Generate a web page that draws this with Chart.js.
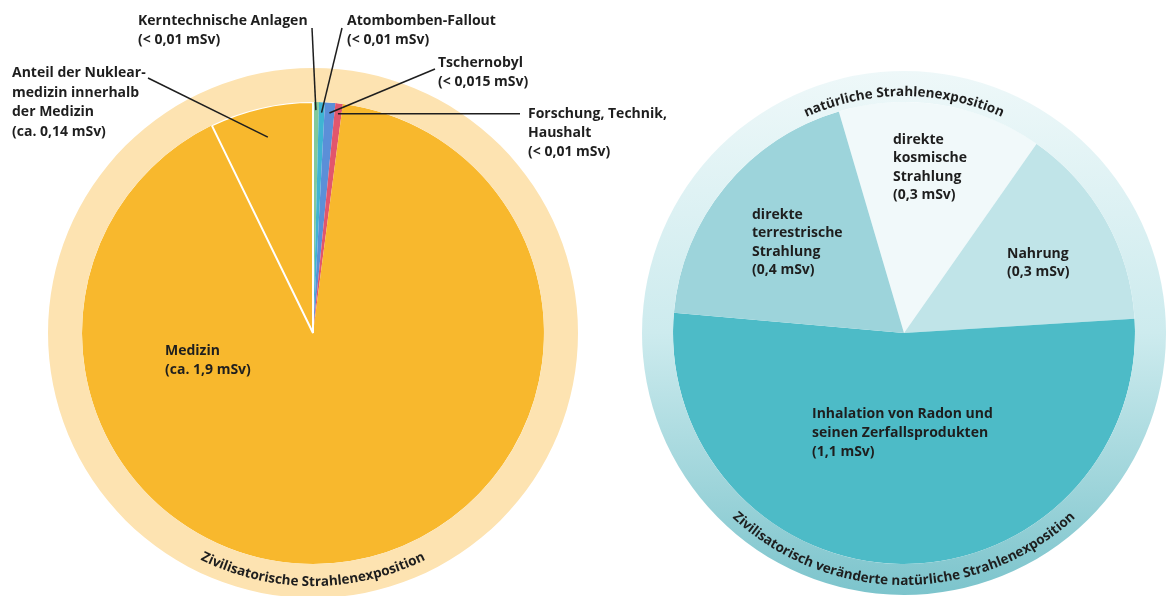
<!DOCTYPE html>
<html>
<head>
<meta charset="utf-8">
<title>Strahlenexposition</title>
<script src="https://cdn.jsdelivr.net/npm/chart.js@4.4.0/dist/chart.umd.min.js"></script>
<style>
  html, body { margin: 0; padding: 0; background: #fff; width: 1166px; height: 596px; overflow: hidden; }
  #left { position: absolute; left: 0; top: 0; }
  #right { position: absolute; left: 620px; top: 0; }
</style>
</head>
<body>
<canvas id="left" width="700" height="600"></canvas>
<canvas id="right" width="546" height="600"></canvas>
<script>
// ---- Data ----
// left pie: civilisational exposure (mSv, small slices as drawn)
const zivLabels = ['Kerntechnische Anlagen', 'Atombomben-Fallout', 'Tschernobyl', 'Forschung, Technik, Haushalt', 'Medizin', 'Nuklearmedizin'];
const zivValues = [0.008, 0.008, 0.014, 0.01, 1.76, 0.14];
const zivText = [
  ['Kerntechnische Anlagen', '(< 0,01 mSv)'],
  ['Atombomben-Fallout', '(< 0,01 mSv)'],
  ['Tschernobyl', '(< 0,015 mSv)'],
  ['Forschung, Technik,', 'Haushalt', '(< 0,01 mSv)'],
  ['Medizin', '(ca. 1,9 mSv)'],
  ['Anteil der Nuklear-', 'medizin innerhalb', 'der Medizin', '(ca. 0,14 mSv)']
];

// right pie: natural exposure (mSv)
const natLabels = ['direkte kosmische Strahlung', 'Nahrung', 'Inhalation von Radon', 'direkte terrestrische Strahlung'];
const natValues = [0.3, 0.3, 1.1, 0.4];
const natText = [
  ['direkte', 'kosmische', 'Strahlung', '(0,3 mSv)'],
  ['Nahrung', '(0,3 mSv)'],
  ['Inhalation von Radon und', 'seinen Zerfallsprodukten', '(1,1 mSv)'],
  ['direkte', 'terrestrische', 'Strahlung', '(0,4 mSv)']
];

const ringTextLeft = 'Zivilisatorische Strahlenexposition';
const ringTextTop = 'natürliche Strahlenexposition';
const ringTextBottom = 'Zivilisatorisch veränderte natürliche Strahlenexposition';

// ---- Styles ----
const cOrange = '#f8b82d';
const cOrangeRing = '#fde3b1';
const zivColors = ['#82c99b', '#3fb4d3', '#5b8fd8', '#e2566c', cOrange, cOrange];
const natColors = ['#f1f9fa', '#c0e4e8', '#4dbbc7', '#9dd4db'];
const textColor = '#1e1e1e';
const labelFont = 'bold 14px "Open Sans"';
const ringFont = 'bold 13.5px "Open Sans"';

// label anchors (x, first baseline, line height) in page pixels
const zivLayout = [
  { x: 138, y: 25, lh: 19, lead: [312, 28], r: 0.965 },
  { x: 347, y: 25, lh: 19, lead: [342, 28], r: 0.955 },
  { x: 438, y: 67, lh: 19, lead: [435, 69], r: 0.955 },
  { x: 528, y: 118, lh: 19, lead: [520, null], r: 0.955 },
  { x: 165, y: 355, lh: 19 },
  { x: 12, y: 77, lh: 19.5, lead: [148, 78], r: 0.87 }
];
const natLayout = [
  { x: 893, y: 143.5, lh: 18.5 },
  { x: 1007, y: 257.5, lh: 18.5 },
  { x: 812, y: 417.5, lh: 19 },
  { x: 752, y: 218.5, lh: 18.5 }
];

// ---- Helpers ----
function drawLines(ctx, lines, x, y, lh) {
  lines.forEach((t, i) => ctx.fillText(t, x, y + i * lh));
}

// text along a circle; smile = bottom arc read left to right
function arcText(ctx, text, cx, cy, r, center, smile) {
  ctx.save();
  ctx.font = ringFont;
  ctx.fillStyle = textColor;
  ctx.textAlign = 'center';
  ctx.textBaseline = 'alphabetic';
  const widths = [...text].map(ch => ctx.measureText(ch).width);
  const total = widths.reduce((a, b) => a + b, 0) / r;
  let a = smile ? center + total / 2 : center - total / 2;
  [...text].forEach((ch, i) => {
    const da = widths[i] / r;
    const m = smile ? a - da / 2 : a + da / 2;
    ctx.save();
    ctx.translate(cx + r * Math.cos(m), cy + r * Math.sin(m));
    ctx.rotate(smile ? m - Math.PI / 2 : m + Math.PI / 2);
    ctx.fillText(ch, 0, 0);
    ctx.restore();
    a = smile ? a - da : a + da;
  });
  ctx.restore();
}

function midPoint(arc, frac) {
  const p = arc.getProps(['x', 'y', 'startAngle', 'endAngle', 'outerRadius'], true);
  const m = (p.startAngle + p.endAngle) / 2;
  const r = p.outerRadius * frac;
  return [p.x + r * Math.cos(m), p.y + r * Math.sin(m)];
}

// ---- Plugins ----
const zivPlugin = {
  id: 'zivLabels',
  afterDraw(chart) {
    const ctx = chart.ctx;
    const arcs = chart.getDatasetMeta(1).data;
    const ring = chart.getDatasetMeta(0).data[0].getProps(['x', 'y', 'innerRadius', 'outerRadius'], true);
    const off = chart.canvas.offsetLeft;
    ctx.save();
    ctx.strokeStyle = textColor;
    ctx.lineWidth = 1.5;
    zivLayout.forEach((l, i) => {
      if (!l.lead) return;
      const end = midPoint(arcs[i], l.r);
      const sy = l.lead[1] === null ? end[1] : l.lead[1];
      ctx.beginPath();
      ctx.moveTo(l.lead[0] - off, sy);
      ctx.lineTo(end[0], end[1]);
      ctx.stroke();
    });
    ctx.font = labelFont;
    ctx.fillStyle = textColor;
    ctx.textAlign = 'left';
    ctx.textBaseline = 'alphabetic';
    zivLayout.forEach((l, i) => drawLines(ctx, zivText[i], l.x - off, l.y, l.lh));
    ctx.restore();
    arcText(ctx, ringTextLeft, ring.x, ring.y, ring.outerRadius - 12, Math.PI / 2, true);
  }
};

const natPlugin = {
  id: 'natLabels',
  afterDraw(chart) {
    const ctx = chart.ctx;
    const ring = chart.getDatasetMeta(0).data[0].getProps(['x', 'y', 'innerRadius', 'outerRadius'], true);
    const off = chart.canvas.offsetLeft;
    ctx.save();
    ctx.font = labelFont;
    ctx.fillStyle = textColor;
    ctx.textAlign = 'left';
    ctx.textBaseline = 'alphabetic';
    natLayout.forEach((l, i) => drawLines(ctx, natText[i], l.x - off, l.y, l.lh));
    ctx.restore();
    arcText(ctx, ringTextTop, ring.x, ring.y, ring.outerRadius - 25, -Math.PI / 2, false);
    arcText(ctx, ringTextBottom, ring.x, ring.y, ring.outerRadius - 10, Math.PI / 2, true);
  }
};

const baseOptions = {
  responsive: false,
  animation: false,
  devicePixelRatio: 1,
  events: [],
  plugins: { legend: { display: false }, tooltip: { enabled: false } }
};

// ---- Left chart ----
new Chart(document.getElementById('left'), {
  type: 'pie',
  data: {
    labels: zivLabels,
    datasets: [
      { data: [1], backgroundColor: cOrangeRing, borderWidth: 0, weight: 34 },
      {
        data: zivValues,
        backgroundColor: zivColors,
        borderColor: '#ffffff',
        borderWidth: [0, 0, 0, 0, 0, 2],
        weight: 231
      }
    ]
  },
  options: { ...baseOptions, layout: { padding: { left: 48, top: 68, right: 122, bottom: 2 } } },
  plugins: [zivPlugin]
});

// ---- Right chart ----
new Chart(document.getElementById('right'), {
  type: 'pie',
  data: {
    labels: natLabels,
    datasets: [
      {
        data: [1],
        backgroundColor: (c) => {
          const g = c.chart.ctx.createLinearGradient(0, 71, 0, 595);
          g.addColorStop(0, '#eef8f9');
          g.addColorStop(0.5, '#cdebee');
          g.addColorStop(1, '#7cc4cc');
          return g;
        },
        borderWidth: 0,
        weight: 31
      },
      { data: natValues, backgroundColor: natColors, borderWidth: 0, weight: 231 }
    ]
  },
  options: { ...baseOptions, rotation: -16.4, layout: { padding: { left: 22, top: 71, right: 0, bottom: 5 } } },
  plugins: [natPlugin]
});
</script>
</body>
</html>
